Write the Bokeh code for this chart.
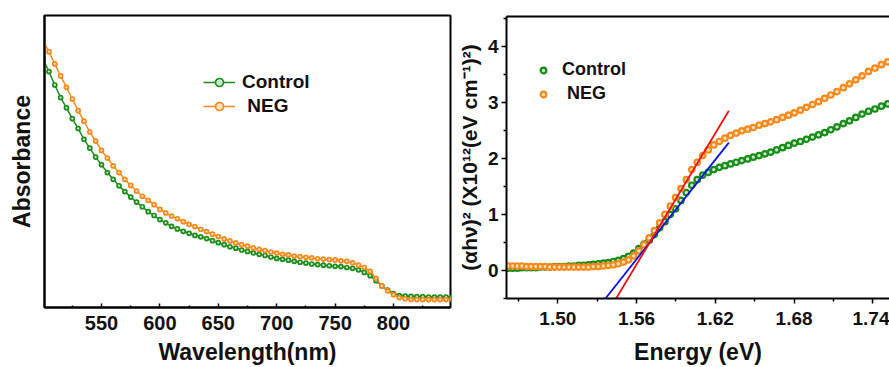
from bokeh.plotting import figure
from bokeh.layouts import row, column
from bokeh.models import (FixedTicker, LinearAxis, Legend, LegendItem, Range1d,
                          PrintfTickFormatter)
from bokeh.embed import file_html
from bokeh.resources import INLINE

# ---------------- data: absorbance ----------------
wavelength = [500, 505, 510, 515, 520, 525, 530, 535, 540, 545,
              550, 555, 560, 565, 570, 575, 580, 585, 590, 595,
              600, 605, 610, 615, 620, 625, 630, 635, 640, 645,
              650, 655, 660, 665, 670, 675, 680, 685, 690, 695,
              700, 705, 710, 715, 720, 725, 730, 735, 740, 745,
              750, 755, 760, 765, 770, 775, 780, 785, 790, 795,
              800, 805, 810, 815, 820, 825, 830, 835, 840, 845, 850]
abs_control = [0.850, 0.808, 0.762, 0.719, 0.684, 0.647, 0.613, 0.576, 0.546, 0.515,
               0.489, 0.462, 0.439, 0.417, 0.397, 0.378, 0.361, 0.345, 0.328, 0.315,
               0.301, 0.290, 0.278, 0.269, 0.261, 0.254, 0.247, 0.242, 0.236, 0.229,
               0.222, 0.215, 0.208, 0.203, 0.197, 0.192, 0.187, 0.182, 0.178, 0.173,
               0.168, 0.165, 0.162, 0.158, 0.155, 0.152, 0.149, 0.147, 0.145, 0.143,
               0.141, 0.140, 0.137, 0.134, 0.129, 0.120, 0.109, 0.092, 0.074, 0.060,
               0.048, 0.041, 0.039, 0.038, 0.037, 0.037, 0.036, 0.036, 0.036, 0.036, 0.036]
abs_neg = [0.914, 0.876, 0.834, 0.793, 0.754, 0.714, 0.674, 0.638, 0.601, 0.570,
           0.538, 0.512, 0.485, 0.462, 0.439, 0.418, 0.399, 0.381, 0.367, 0.352,
           0.336, 0.324, 0.313, 0.304, 0.294, 0.285, 0.277, 0.268, 0.260, 0.251,
           0.243, 0.235, 0.228, 0.221, 0.215, 0.210, 0.204, 0.199, 0.195, 0.190,
           0.186, 0.182, 0.180, 0.176, 0.174, 0.172, 0.170, 0.167, 0.166, 0.164,
           0.163, 0.160, 0.158, 0.153, 0.145, 0.137, 0.124, 0.100, 0.074, 0.057,
           0.044, 0.034, 0.030, 0.027, 0.027, 0.027, 0.027, 0.027, 0.027, 0.027, 0.027]
wl_ticks = [550, 600, 650, 700, 750, 800]
wl_minor = [525, 575, 625, 675, 725, 775, 825]

# ---------------- data: Tauc plot ----------------
energy = [1.4623, 1.4657, 1.4692, 1.4727, 1.4762, 1.4797, 1.4833, 1.4868, 1.4904, 1.4940,
          1.4976, 1.5012, 1.5049, 1.5085, 1.5122, 1.5159, 1.5196, 1.5233, 1.5271, 1.5309,
          1.5347, 1.5385, 1.5423, 1.5461, 1.5500, 1.5539, 1.5578, 1.5617, 1.5657, 1.5696,
          1.5736, 1.5776, 1.5816, 1.5857, 1.5897, 1.5938, 1.5979, 1.6021, 1.6062, 1.6104,
          1.6146, 1.6188, 1.6230, 1.6273, 1.6316, 1.6359, 1.6402, 1.6446, 1.6489, 1.6533,
          1.6578, 1.6622, 1.6667, 1.6712, 1.6757, 1.6802, 1.6848, 1.6894, 1.6940, 1.6986,
          1.7033, 1.7080, 1.7127, 1.7175, 1.7222, 1.7270, 1.7318, 1.7367, 1.7416, 1.7465,
          1.7514, 1.7564]
tauc_control = [0.04, 0.04, 0.04, 0.05, 0.05, 0.05, 0.05, 0.06, 0.06, 0.06,
                0.07, 0.07, 0.07, 0.08, 0.08, 0.09, 0.09, 0.10, 0.11, 0.12,
                0.13, 0.14, 0.16, 0.18, 0.21, 0.25, 0.31, 0.39, 0.47, 0.54,
                0.64, 0.76, 0.87, 1.00, 1.10, 1.25, 1.39, 1.52, 1.62, 1.70,
                1.75, 1.80, 1.84, 1.87, 1.90, 1.93, 1.96, 1.99, 2.02, 2.05,
                2.08, 2.11, 2.15, 2.19, 2.23, 2.27, 2.30, 2.34, 2.38, 2.42,
                2.46, 2.51, 2.56, 2.62, 2.67, 2.73, 2.79, 2.84, 2.88, 2.93,
                2.97, 3.01]
tauc_neg = [0.08, 0.08, 0.08, 0.08, 0.07, 0.07, 0.07, 0.07, 0.07, 0.06,
            0.06, 0.06, 0.06, 0.06, 0.06, 0.06, 0.06, 0.06, 0.07, 0.07,
            0.08, 0.09, 0.10, 0.12, 0.15, 0.19, 0.26, 0.35, 0.46, 0.58,
            0.71, 0.85, 1.00, 1.15, 1.30, 1.46, 1.62, 1.80, 1.93, 2.05,
            2.15, 2.24, 2.30, 2.36, 2.41, 2.45, 2.49, 2.52, 2.55, 2.59,
            2.62, 2.65, 2.69, 2.73, 2.77, 2.81, 2.86, 2.91, 2.96, 3.01,
            3.07, 3.13, 3.19, 3.26, 3.33, 3.40, 3.47, 3.55, 3.61, 3.67,
            3.72, 3.77]
fit_neg_x = [1.5444, 1.6303]
fit_neg_y = [-0.50, 2.85]
fit_control_x = [1.5363, 1.6303]
fit_control_y = [-0.50, 2.28]
e_ticks = [1.50, 1.56, 1.62, 1.68, 1.74]
e_minor = [1.47, 1.53, 1.59, 1.65, 1.71, 1.77]
t_ticks = [0, 1, 2, 3, 4]
t_minor = [-0.5, 0.5, 1.5, 2.5, 3.5, 4.5]

GREEN = "#1a8c1a"
ORANGE = "#f7891c"
GREEN_IN = "#cdeccd"
ORANGE_IN = "#fde3c2"
FONT = "Liberation Sans"


def style_axis(ax, size):
    ax.major_label_text_font = FONT
    ax.major_label_text_font_style = "bold"
    ax.major_label_text_font_size = size
    ax.major_label_text_color = "#111111"
    ax.axis_label_text_font = FONT
    ax.axis_label_text_font_style = "bold"
    ax.axis_label_text_color = "#111111"
    ax.axis_line_width = 2
    ax.major_tick_line_width = 1.5
    ax.minor_tick_line_width = 1.5


# ---------------- left: absorbance ----------------
p1 = figure(width=452, height=367, output_backend="svg", toolbar_location=None,
            x_range=Range1d(501.2, 848.8), y_range=Range1d(0, 1),
            min_border_left=44, min_border_right=2, min_border_top=15, min_border_bottom=60)
p1.grid.visible = False
p1.outline_line_color = "black"
p1.outline_line_width = 2
p1.background_fill_color = "white"

lc = p1.line(wavelength, abs_control, line_color=GREEN, line_width=1.5)
sc = p1.scatter(wavelength, abs_control, size=4, line_width=1.7, line_color=GREEN, fill_color=GREEN_IN)
ln = p1.line(wavelength, abs_neg, line_color=ORANGE, line_width=1.5)
sn = p1.scatter(wavelength, abs_neg, size=4, line_width=1.7, line_color=ORANGE, fill_color=ORANGE_IN)

xa = p1.xaxis[0]
xa.ticker = FixedTicker(ticks=wl_ticks, minor_ticks=wl_minor)
xa.axis_label = "Wavelength(nm)"
style_axis(xa, "20px")
xa.axis_label_text_font_size = "23px"
xa.major_tick_in = 4
xa.major_tick_out = 0
xa.minor_tick_in = 2
xa.minor_tick_out = 0
xa.major_label_standoff = 8
xa.axis_label_standoff = 6

ya = p1.yaxis[0]
ya.ticker = FixedTicker(ticks=[])
ya.axis_label = "Absorbance"
style_axis(ya, "0px")
ya.axis_label_text_font_size = "23px"
ya.major_tick_in = 0
ya.major_tick_out = 0
ya.minor_tick_in = 0
ya.minor_tick_out = 0
ya.major_label_standoff = 0
ya.axis_label_standoff = 10

leg1 = Legend(items=[LegendItem(label="Control", renderers=[lc, sc]),
                     LegendItem(label="\u00a0NEG", renderers=[ln, sn])],
              location=(159, 190), orientation="vertical",
              padding=0, margin=0, spacing=2, glyph_width=32, glyph_height=20,
              label_height=20, label_standoff=7,
              label_text_font=FONT, label_text_font_style="bold",
              label_text_font_size="19px", label_text_color="#111111",
              border_line_color=None, background_fill_alpha=0)
p1.add_layout(leg1)

# ---------------- right: Tauc plot ----------------
p2 = figure(width=437, height=367, output_backend="svg", toolbar_location=None,
            x_range=Range1d(1.4609, 1.7527), y_range=Range1d(-0.5, 4.53),
            min_border_left=54, min_border_right=0, min_border_top=16, min_border_bottom=69)
p2.grid.visible = False
p2.outline_line_color = None

s2c = p2.scatter(energy, tauc_control, size=5.5, line_width=2.2, line_color=GREEN, fill_color=GREEN_IN)
s2n = p2.scatter(energy, tauc_neg, size=5.5, line_width=2.2, line_color=ORANGE, fill_color=ORANGE_IN)
p2.line(fit_control_x, fit_control_y, line_color="#0a14e6", line_width=1.8)
p2.line(fit_neg_x, fit_neg_y, line_color="#ee1111", line_width=1.8)

xb = p2.xaxis[0]
xb.ticker = FixedTicker(ticks=e_ticks, minor_ticks=e_minor)
xb.formatter = PrintfTickFormatter(format="%.2f")
xb.axis_label = "Energy (eV)"
style_axis(xb, "19px")
xb.axis_label_text_font_size = "23px"
xb.major_tick_in = 0
xb.major_tick_out = 5
xb.minor_tick_in = 0
xb.minor_tick_out = 3
xb.major_label_standoff = 8
xb.axis_label_standoff = 11

yb = p2.yaxis[0]
yb.ticker = FixedTicker(ticks=t_ticks, minor_ticks=t_minor)
yb.axis_label = "(\u03b1h\u03bd)\u00b2 (X10\u00b9\u00b2(eV cm\u207b\u00b9)\u00b2)"
style_axis(yb, "19px")
yb.axis_label_text_font_size = "21px"
yb.major_tick_in = 0
yb.major_tick_out = 5
yb.minor_tick_in = 0
yb.minor_tick_out = 3
yb.major_label_standoff = 3
yb.axis_label_standoff = 4

top = LinearAxis(ticker=FixedTicker(ticks=[]), major_label_text_font_size="0px",
                 axis_line_width=2, major_tick_in=0, major_tick_out=0,
                 minor_tick_in=0, minor_tick_out=0, major_label_standoff=0)
p2.add_layout(top, "above")

leg2 = Legend(items=[LegendItem(label="Control", renderers=[s2c]),
                     LegendItem(label="\u00a0NEG", renderers=[s2n])],
              location=(30, 194), orientation="vertical",
              padding=0, margin=0, spacing=3, glyph_width=14, glyph_height=20,
              label_height=20, label_standoff=12,
              label_text_font=FONT, label_text_font_style="bold",
              label_text_font_size="18px", label_text_color="#111111",
              border_line_color=None, background_fill_alpha=0)
p2.add_layout(leg2)

layout = row(column(p1), column(p2), spacing=0)
open("out.html", "w").write(file_html(layout, INLINE))
